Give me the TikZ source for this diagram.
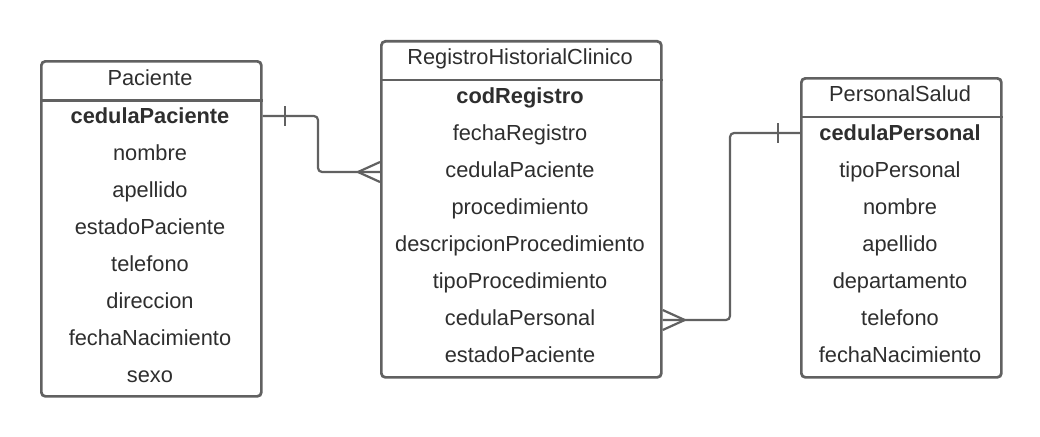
\documentclass[tikz,border=0pt]{standalone}
\usepackage{fontspec}
\setmainfont{Liberation Sans}
\definecolor{ln}{HTML}{616161}
\definecolor{tx}{HTML}{2E2E2E}
\tikzset{
  tbl/.style={draw=ln, line width=2.7pt, rounded corners=4pt, fill=white, anchor=north west, inner sep=0pt},
  sep/.style={draw=ln, line width=2.7pt},
  fld/.style={text=tx, font=\fontsize{21.8}{26}\selectfont, anchor=base, inner sep=0pt},
  rel/.style={draw=ln, line width=2.2pt, rounded corners=4pt},
  tick/.style={draw=ln, line width=2.2pt}
}
\begin{document}
\begin{tikzpicture}[x=1pt,y=-1pt]
\useasboundingbox (0,0) rectangle (1040,436);
% tables
\node[tbl, minimum width=220pt, minimum height=335pt] (pac) at (40,60) {};
\node[tbl, minimum width=280pt, minimum height=336pt] (reg) at (380,40) {};
\node[tbl, minimum width=200pt, minimum height=299pt] (per) at (800,77) {};
\draw[sep] (pac.west |- 0,100.5) -- (pac.east |- 0,100.5);
\draw[sep] (reg.west |- 0,80) -- (reg.east |- 0,80);
\draw[sep] (per.west |- 0,117) -- (per.east |- 0,117);
% headers
\node[fld] (pach) at (150,85) {Paciente};
\node[fld] (regh) at (520,64) {RegistroHistorialClinico};
\node[fld] (perh) at (900,101.5) {PersonalSalud};
% Paciente rows
\foreach \t [count=\i] in {\textbf{cedulaPaciente},nombre,apellido,estadoPaciente,telefono,direccion,fechaNacimiento,sexo}
  \node[fld] (pac\i) at (150,{123.5+37.0*(\i-1)}) {\t};
% Registro rows
\foreach \t [count=\i] in {\textbf{codRegistro},fechaRegistro,cedulaPaciente,procedimiento,descripcionProcedimiento,tipoProcedimiento,cedulaPersonal,estadoPaciente}
  \node[fld] (reg\i) at (520,{103.5+37.0*(\i-1)}) {\t};
% Personal rows
\foreach \t [count=\i] in {\textbf{cedulaPersonal},tipoPersonal,nombre,apellido,departamento,telefono,fechaNacimiento}
  \node[fld] (per\i) at (900,{140.5+37.0*(\i-1)}) {\t};
% relation Paciente -> Registro
\coordinate (a1) at (pac.east |- 0,116);
\coordinate (a2) at (reg.west |- 0,172);
\draw[rel] (a1) -| (318,144) |- (a2);
\draw[tick] ([xshift=22pt]a1) ++(0,-10) -- ++(0,20);
\draw[tick] ([xshift=-22pt]a2) -- ++(22,-10);
\draw[tick] ([xshift=-22pt]a2) -- ++(22,10);
% relation Personal -> Registro
\coordinate (b1) at (per.west |- 0,133);
\coordinate (b2) at (reg.east |- 0,320);
\draw[rel] (b1) -| (730,226) |- (b2);
\draw[tick] ([xshift=-22pt]b1) ++(0,-10) -- ++(0,20);
\draw[tick] ([xshift=22pt]b2) -- ++(-22,-10);
\draw[tick] ([xshift=22pt]b2) -- ++(-22,10);
\end{tikzpicture}
\end{document}
